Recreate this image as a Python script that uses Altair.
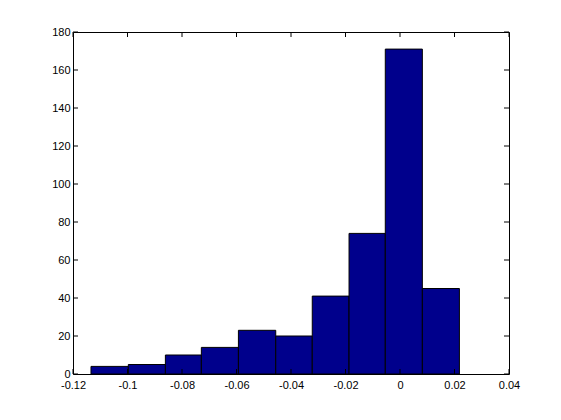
import altair as alt
import pandas as pd

bin_left = [-0.1134, -0.0997, -0.0861, -0.0729, -0.0593, -0.0456, -0.0322, -0.0187, -0.0054, 0.0082]
bin_right = [-0.0997, -0.0861, -0.0729, -0.0593, -0.0456, -0.0322, -0.0187, -0.0054, 0.0082, 0.0218]
counts = [4, 5, 10, 14, 23, 20, 41, 74, 171, 45]
x_ticks = [-0.12, -0.1, -0.08, -0.06, -0.04, -0.02, 0, 0.02, 0.04]
y_ticks = [0, 20, 40, 60, 80, 100, 120, 140, 160, 180]

W, H = 436, 342
FONT = "Liberation Sans"

bars = pd.DataFrame({"x0": bin_left, "x1": bin_right, "count": counts, "base": [0] * len(counts)})
xt = pd.DataFrame({"v": x_ticks})
yt = pd.DataFrame({"v": y_ticks})

xscale = alt.Scale(domain=[-0.12, 0.04], nice=False, zero=False)
yscale = alt.Scale(domain=[0, 180], nice=False)

label_expr = "replace(format(datum.value, '~g'), '\u2212', '-')"

xaxis = alt.Axis(values=x_ticks, ticks=False, domain=False, grid=False,
                 labelExpr=label_expr, labelFont=FONT, labelFontSize=11,
                 labelColor="#000000", labelPadding=5, labelFlush=False,
                 labelOverlap=False, title=None)
yaxis = alt.Axis(values=y_ticks, ticks=False, domain=False, grid=False,
                 labelFont=FONT, labelFontSize=11, labelColor="#000000",
                 labelPadding=3, labelFlush=False, labelOverlap=False, title=None)

bar_layer = alt.Chart(bars).mark_rect(color="#00008C", stroke="#000000", strokeWidth=1).encode(
    x=alt.X("x0:Q", scale=xscale, axis=xaxis),
    x2="x1:Q",
    y=alt.Y("count:Q", scale=yscale, axis=yaxis),
    y2="base:Q",
)

tick_len = 5
bottom_ticks = alt.Chart(xt).mark_rule(color="#000000", strokeWidth=1).encode(
    x=alt.X("v:Q", scale=xscale, axis=xaxis), y=alt.value(H), y2=alt.value(H - tick_len))
top_ticks = alt.Chart(xt).mark_rule(color="#000000", strokeWidth=1).encode(
    x=alt.X("v:Q", scale=xscale, axis=xaxis), y=alt.value(0), y2=alt.value(tick_len))
left_ticks = alt.Chart(yt).mark_rule(color="#000000", strokeWidth=1).encode(
    y=alt.Y("v:Q", scale=yscale, axis=yaxis), x=alt.value(0), x2=alt.value(tick_len))
right_ticks = alt.Chart(yt).mark_rule(color="#000000", strokeWidth=1).encode(
    y=alt.Y("v:Q", scale=yscale, axis=yaxis), x=alt.value(W), x2=alt.value(W - tick_len))

chart = alt.layer(bar_layer, bottom_ticks, top_ticks, left_ticks, right_ticks).properties(
    width=W, height=H,
    autosize=alt.AutoSizeParams(type="none"),
    padding={"left": 65, "top": 24, "right": 44, "bottom": 38},
    background="#ffffff",
).configure_view(stroke="#000000", strokeWidth=1).configure_axis(labelOverlap=False)

chart.save("out.html", embed_options={"renderer": "svg", "actions": False})
